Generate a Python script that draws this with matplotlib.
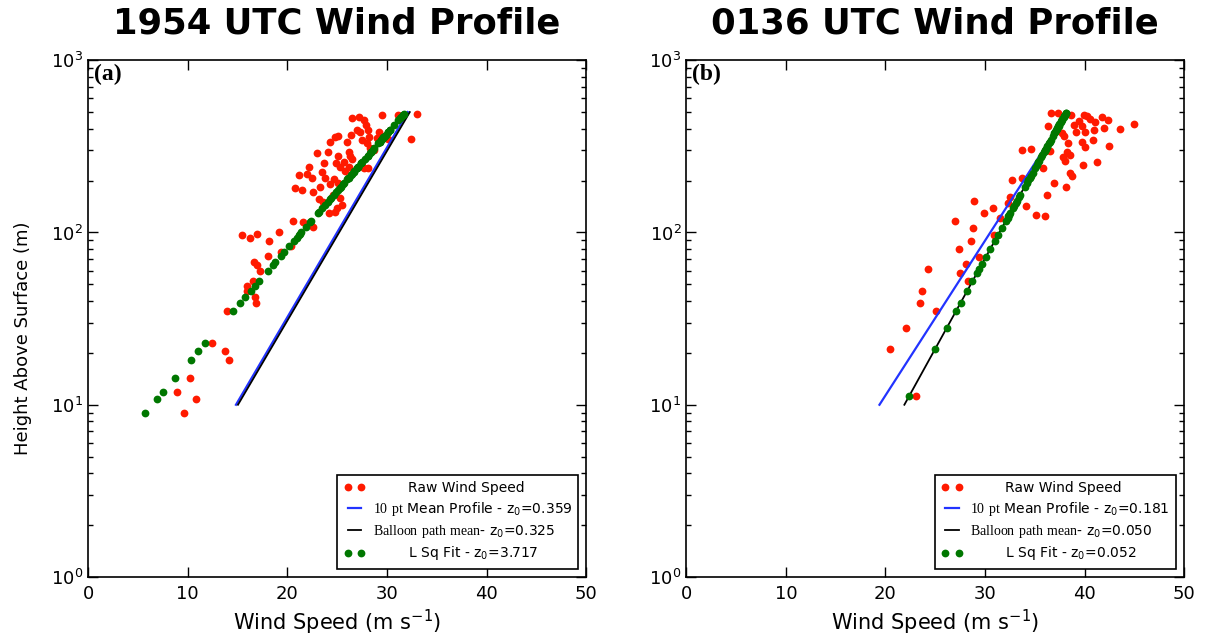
import matplotlib
matplotlib.use("Agg")
import math
import matplotlib.pyplot as plt
from matplotlib.ticker import FuncFormatter, LogLocator, MultipleLocator

plt.rcParams['mathtext.fontset'] = 'custom'
plt.rcParams['mathtext.rm'] = 'Liberation Serif'
plt.rcParams['mathtext.sf'] = 'DejaVu Sans'
plt.rcParams['mathtext.it'] = 'DejaVu Sans:italic'
plt.rcParams['mathtext.bf'] = 'DejaVu Sans:bold'

# ---- panel (a) 1954 UTC : heights (m), raw speed, least-squares fit speed (m/s)
z_a = [8.9, 10.75, 11.9, 14.3, 18.1, 20.4, 22.7, 34.8, 39, 42, 46, 49, 52, 60, 65, 67,
       73, 77, 83, 89, 93, 97, 98, 100, 108, 115, 116, 129, 132, 138, 144, 151, 156,
       159, 165, 172, 176, 182, 184, 190, 195, 204, 206, 208, 215, 220, 225, 227, 236,
       238, 241, 241, 241, 252, 252, 257, 267, 279, 279, 288, 292, 294, 301, 308, 329,
       336, 336, 344, 347, 348, 355, 356, 359, 363, 368, 384, 384, 393, 393, 420, 449,
       459, 469, 480, 484, 487]
raw_a = [9.6, 10.8, 8.9, 10.2, 14.2, 13.7, 12.4, 13.9, 16.9, 16.8, 16.0, 16.0, 16.6, 17.3,
         17.0, 16.7, 18.1, 19.4, 20.4, 18.2, 16.3, 15.5, 17.0, 19.2, 22.6, 21.6, 20.6,
         24.2, 24.8, 25.0, 25.5, 23.6, 23.2, 25.3, 24.6, 22.6, 21.5, 20.8, 23.3, 24.3,
         25.1, 24.7, 23.8, 22.5, 21.2, 22.0, 23.5, 25.8, 28.1, 27.7, 25.3, 26.2, 22.2,
         23.7, 24.9, 25.7, 26.5, 25.1, 26.3, 23.0, 24.1, 26.2, 28.7, 28.3, 28.0, 26.0,
         24.3, 27.5, 32.4, 30.1, 29.0, 24.8, 28.2, 25.1, 26.4, 27.3, 29.2, 27.0, 28.1,
         27.9, 27.7, 26.5, 27.2, 29.5, 31.1, 33.0]
fit_a = [5.67, 6.90, 7.56, 8.76, 10.29, 11.07, 11.76, 14.54, 15.28, 15.76, 16.35, 16.76,
         17.15, 18.08, 18.60, 18.80, 19.35, 19.70, 20.19, 20.64, 20.93, 21.20, 21.27,
         21.40, 21.90, 22.31, 22.37, 23.06, 23.21, 23.49, 23.77, 24.08, 24.29, 24.41,
         24.65, 24.92, 25.07, 25.29, 25.36, 25.57, 25.74, 26.03, 26.10, 26.16, 26.38,
         26.53, 26.67, 26.73, 26.98, 27.03, 27.12, 27.12, 27.12, 27.40, 27.40, 27.53,
         27.78, 28.07, 28.07, 28.28, 28.37, 28.41, 28.56, 28.71, 29.14, 29.28, 29.28,
         29.43, 29.48, 29.50, 29.63, 29.65, 29.71, 29.78, 29.87, 30.15, 30.15, 30.30,
         30.30, 30.73, 31.16, 31.30, 31.45, 31.60, 31.65, 31.69]
mean_a_z, mean_a_u = [10, 500], [14.85, 32.1]
balloon_a_z, balloon_a_u = [10, 500], [15.05, 32.3]

# ---- panel (b) 0136 UTC
z_b = [11.2, 21, 28, 35, 39, 46, 52, 58, 61, 66, 72, 80, 89, 97, 106, 116, 122, 124, 126,
       129, 139, 142, 148, 152, 160, 165, 184, 194, 201, 207, 213, 222, 238, 248, 255,
       261, 275, 281, 294, 298, 301, 304, 314, 317, 332, 336, 344, 363, 376, 382, 384,
       393, 397, 402, 415, 416, 420, 424, 439, 445, 449, 453, 469, 474, 480, 480, 491, 495]
raw_b = [23.06, 20.48, 22.09, 25.10, 23.49, 23.62, 28.28, 27.44, 24.30, 28.04, 29.35,
         27.34, 28.61, 30.92, 28.75, 26.94, 31.53, 36.04, 35.14, 29.89, 30.79, 34.07,
         32.26, 28.88, 32.46, 36.24, 38.15, 36.95, 32.70, 33.70, 38.76, 38.48, 35.81,
         39.79, 41.23, 38.05, 37.82, 38.55, 38.22, 36.55, 33.70, 34.64, 39.99, 42.44,
         38.28, 39.73, 40.83, 37.95, 37.72, 39.16, 40.06, 40.96, 43.50, 41.97, 39.73,
         36.32, 38.89, 44.91, 41.06, 39.39, 42.30, 40.56, 41.74, 40.23, 38.62, 39.89,
         36.62, 37.35]
fit_b = [22.35, 24.96, 26.16, 27.09, 27.54, 28.23, 28.73, 29.19, 29.40, 29.73, 30.09,
         30.53, 30.97, 31.33, 31.69, 32.07, 32.28, 32.35, 32.41, 32.51, 32.82, 32.91,
         33.08, 33.20, 33.41, 33.54, 33.99, 34.21, 34.36, 34.48, 34.60, 34.77, 35.06,
         35.23, 35.35, 35.45, 35.66, 35.75, 35.94, 36.00, 36.04, 36.08, 36.21, 36.25,
         36.45, 36.50, 36.60, 36.82, 36.97, 37.03, 37.05, 37.15, 37.19, 37.24, 37.37,
         37.39, 37.42, 37.46, 37.61, 37.66, 37.70, 37.74, 37.89, 37.93, 37.98, 37.98,
         38.08, 38.11]
mean_b_z, mean_b_u = [10, 500], [19.4, 38.3]
balloon_b_z, balloon_b_u = [10, 500], [21.9, 38.1]

panels = [
    dict(title='1954 UTC Wind Profile', tag='(a)', z=z_a, raw=raw_a, fit=fit_a,
         mz=mean_a_z, mu=mean_a_u, bz=balloon_a_z, bu=balloon_a_u,
         z0=('0.359', '0.325', '3.717'), ylabel=True),
    dict(title='0136 UTC Wind Profile', tag='(b)', z=z_b, raw=raw_b, fit=fit_b,
         mz=mean_b_z, mu=mean_b_u, bz=balloon_b_z, bu=balloon_b_u,
         z0=('0.181', '0.050', '0.052'), ylabel=False),
]

fig = plt.figure(figsize=(12.06, 6.38), dpi=100)
lefts = [0.073, 0.569]

def logfmt(v, pos):
    return r'$\mathsf{10^{%d}}$' % round(math.log10(v))

for p, left in zip(panels, lefts):
    ax = fig.add_axes([left, 0.0956, 0.413, 0.810])
    ax.plot(p['raw'], p['z'], 'o', color='#ff1a00', ms=5.6, mec='none',
            label='        Raw Wind Speed')
    ax.plot(p['mu'], p['mz'], '-', color='#2233ff', lw=1.6,
            label=r'$\mathrm{10\ pt}$ Mean Profile - z$_{\mathsf{0}}$=' + p['z0'][0])
    ax.plot(p['bu'], p['bz'], '-', color='black', lw=1.3,
            label=r'$\mathrm{Balloon\ path\ mean}$- z$_{\mathsf{0}}$=' + p['z0'][1])
    ax.plot(p['fit'], p['z'], 'o', color='#007700', ms=5.6, mec='none',
            label='        L Sq Fit - z$_{\mathsf{0}}$=' + p['z0'][2])
    ax.set_yscale('log')
    ax.set_xlim(0, 50)
    ax.set_ylim(1, 1000)
    ax.xaxis.set_major_locator(MultipleLocator(10))
    ax.yaxis.set_major_locator(LogLocator(base=10))
    ax.yaxis.set_major_formatter(FuncFormatter(logfmt))
    ax.tick_params(which='both', direction='in', top=True, right=True, labelsize=13)
    ax.tick_params(which='major', length=7, width=1)
    ax.tick_params(which='minor', length=3.5, width=1)
    ax.tick_params(axis='x', pad=6)
    for s in ax.spines.values():
        s.set_linewidth(1.2)
    ax.set_title(p['title'], fontsize=25.5, fontweight='bold', pad=19)
    ax.set_xlabel(r'Wind Speed (m s$^{\mathsf{-1}}$)', fontsize=15, labelpad=3)
    if p['ylabel']:
        ax.set_ylabel('Height Above Surface (m)', fontsize=13)
        ax.yaxis.set_label_coords(-0.112, 0.462)
    ax.text(0.012, 0.992, p['tag'], transform=ax.transAxes, va='top', ha='left',
            family='Liberation Serif', fontweight='bold', fontsize=17)
    leg = ax.legend(loc='lower right', numpoints=2, fontsize=10, handlelength=1.6,
                    labelspacing=0.35, borderaxespad=0.6, fancybox=False,
                    framealpha=1, edgecolor='black', handletextpad=0.5,
                    borderpad=0.45)
    leg.get_frame().set_linewidth(1.2)

fig.savefig('out.png', dpi=100)
